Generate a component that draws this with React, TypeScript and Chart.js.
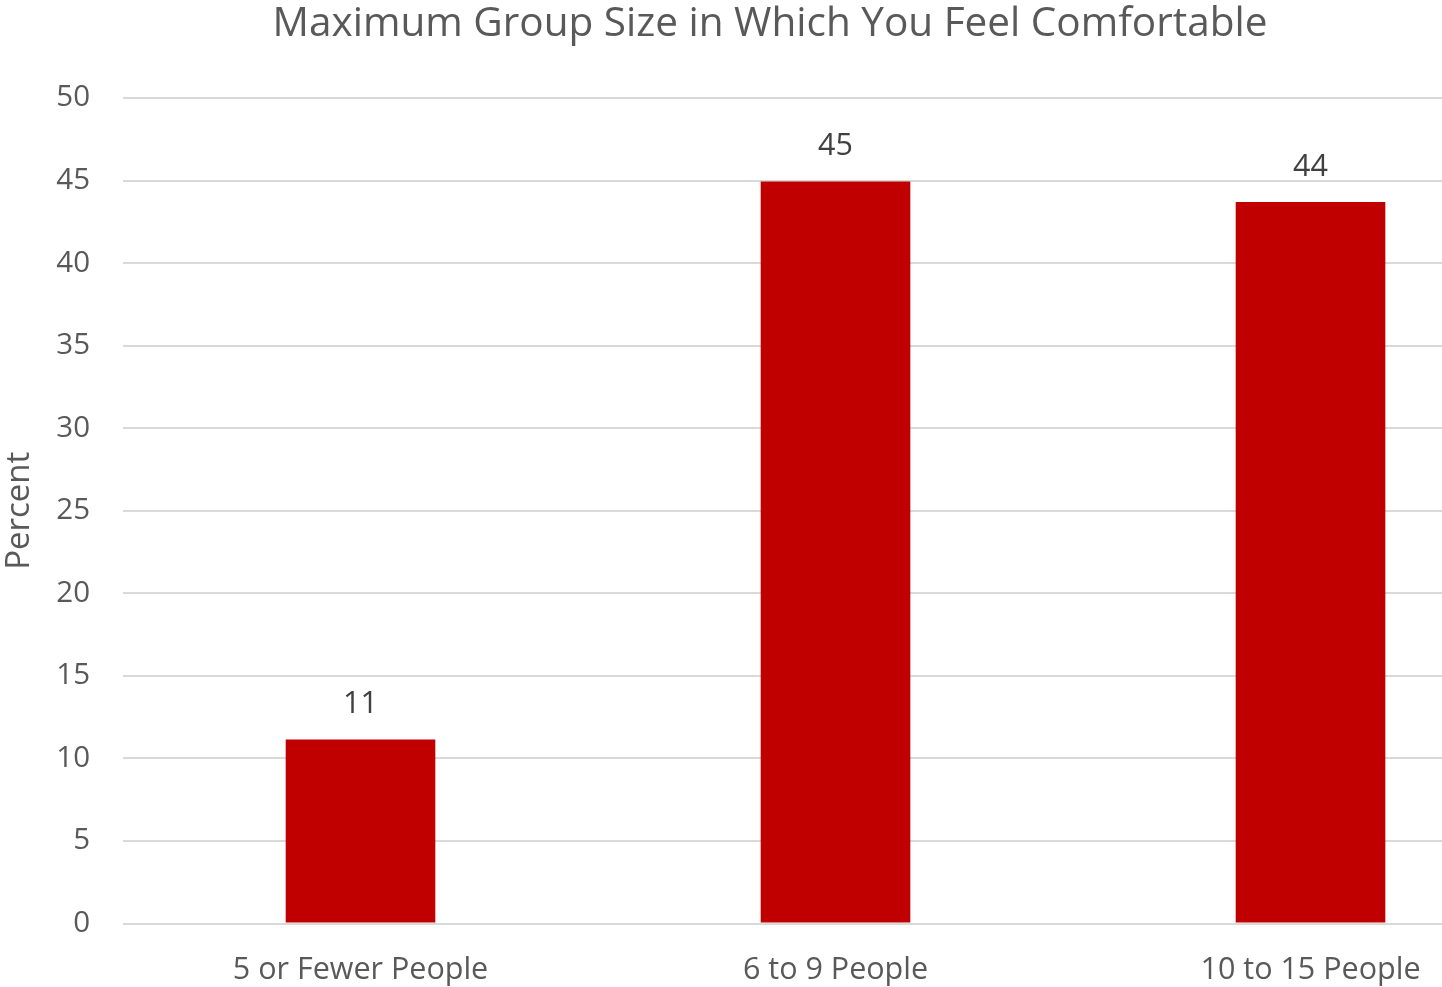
import React, { useEffect, useRef } from "react";
import { Chart, registerables } from "chart.js";

Chart.register(...registerables);

const TITLE = "Maximum Group Size in Which You Feel Comfortable";
const Y_TITLE = "Percent";
const categories = ["5 or Fewer People", "6 to 9 People", "10 to 15 People"];
const percentValues = [11.15, 44.95, 43.7];
const valueLabels = ["11", "45", "44"];
const yTicks = [0, 5, 10, 15, 20, 25, 30, 35, 40, 45, 50];

const FONT = "'Open Sans', 'Noto Sans', sans-serif";
const TEXT = "#595959";

export default function App() {
  const ref = useRef<HTMLCanvasElement | null>(null);

  useEffect(() => {
    if (!ref.current) return;
    const titlePlugin = {
      id: "customTitle",
      afterDraw(chart: any) {
        const ctx = chart.ctx;
        ctx.save();
        ctx.font = `40.5px ${FONT}`;
        ctx.fillStyle = TEXT;
        ctx.textAlign = "center";
        ctx.textBaseline = "middle";
        ctx.fillText(TITLE, 770, 24);
        ctx.restore();
      },
    };
    const labelPlugin = {
      id: "valueLabels",
      afterDatasetsDraw(chart: any) {
        const ctx = chart.ctx;
        const meta = chart.getDatasetMeta(0);
        ctx.save();
        ctx.font = `30.5px ${FONT}`;
        ctx.fillStyle = "#404040";
        ctx.textAlign = "center";
        ctx.textBaseline = "middle";
        meta.data.forEach((bar: any, i: number) => {
          ctx.fillText(valueLabels[i], bar.x, bar.y - 35);
        });
        ctx.restore();
      },
    };
    const chart = new Chart(ref.current, {
      type: "bar",
      data: {
        labels: categories,
        datasets: [
          {
            data: percentValues,
            backgroundColor: "#C00000",
            borderWidth: 0,
            categoryPercentage: 1,
            barPercentage: 0.315,
          },
        ],
      },
      options: {
        responsive: false,
        animation: false,
        layout: { padding: { top: 98, right: 12, left: 0, bottom: 0 } },
        plugins: {
          legend: { display: false },
          tooltip: { enabled: false },
          title: { display: false },
        },
        scales: {
          x: {
            grid: { display: false, drawTicks: false },
            border: { display: false },
            ticks: {
              color: TEXT,
              font: { family: FONT, size: 30.5 },
              padding: 29,
              maxRotation: 0,
            },
            afterFit(scale: any) {
              scale.height = 63.5;
            },
          },
          y: {
            min: 0,
            max: 50,
            afterBuildTicks(scale: any) {
              scale.ticks = yTicks.map((v) => ({ value: v }));
            },
            grid: { color: "#d9d9d9", lineWidth: 2, drawTicks: false },
            border: { display: false },
            ticks: {
              color: TEXT,
              font: { family: FONT, size: 29.5 },
              padding: 33,
            },
            title: {
              display: true,
              text: Y_TITLE,
              color: TEXT,
              font: { family: FONT, size: 33 },
              padding: { top: 0, bottom: 0 },
            },
            afterFit(scale: any) {
              scale.width = 123;
            },
          },
        },
      },
      plugins: [titlePlugin, labelPlugin],
    });
    return () => chart.destroy();
  }, []);

  return (
    <div
      style={{
        position: "absolute",
        left: 0,
        top: 0,
        width: 1442,
        height: 987,
        overflow: "hidden",
        background: "#fff",
      }}
    >
      <canvas ref={ref} width={1560} height={987} style={{ display: "block" }} />
    </div>
  );
}
